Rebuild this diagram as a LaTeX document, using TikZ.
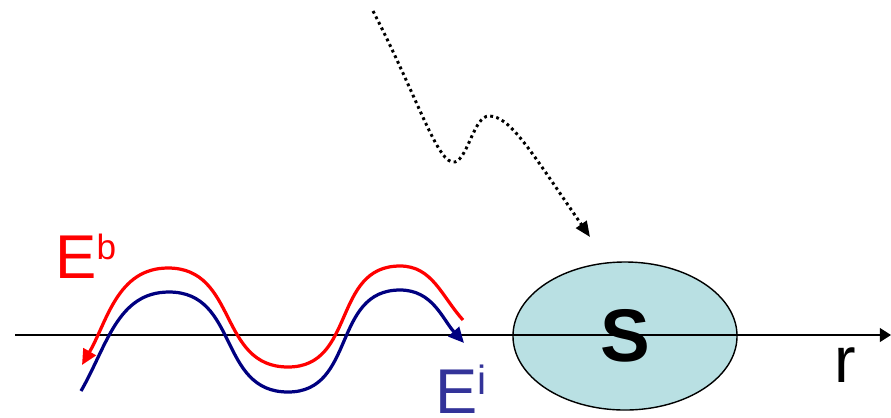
\documentclass[tikz,border=0pt]{standalone}
\usepackage{fontspec}
\setmainfont{Liberation Sans}
\usetikzlibrary{arrows.meta, shapes.geometric}

\definecolor{fieldred}{RGB}{255,0,0}
\definecolor{fieldnavy}{RGB}{0,0,128}
\definecolor{labelblue}{RGB}{51,51,153}
\definecolor{scatfill}{RGB}{185,224,227}

\begin{document}
\begin{tikzpicture}[
  x=0.025cm, y=0.025cm,
  wave/.style={line width=2.3pt},
  axis/.style={line width=0.9pt, -{Triangle[length=8pt, width=10pt]}},
  scatterer/.style={ellipse, draw, line width=1pt, fill=scatfill,
                    minimum width=5.6cm, minimum height=3.7cm, inner sep=0pt},
  lbl/.style={inner sep=0pt, anchor=base west},
  photon/.style={line width=2.1pt, dash pattern=on 2pt off 2.4pt,
                 -{Triangle[length=11pt, width=9pt]}}
]
\useasboundingbox (0,0) rectangle (891,-417);

% --- Scatterer ---
\node[scatterer] (scat) at (625,-336) {};

% --- Axis ---
\coordinate (ax0) at (15,-335);
\coordinate (ax1) at (891,-335);
\draw[axis] (ax0) -- (ax1);
\node[font=\fontsize{53}{53}\selectfont\bfseries] (slbl) at (scat.center) {S};
\node[lbl, font=\fontsize{46}{46}\selectfont] (rlbl) at (834,-382) {r};

% --- Incident wave (navy) ---
\coordinate (i0) at (81,-391);
\coordinate (i1) at (169,-292);
\coordinate (i2) at (288,-392);
\coordinate (i3) at (400,-290);
\coordinate (i4) at (464,-343);
\draw[wave, fieldnavy, -{Triangle[length=11pt, width=10pt]}]
  (i0) to[out=60,in=180] (i1) to[out=0,in=180,looseness=1.15] (i2)
       to[out=0,in=180,looseness=1.15] (i3) to[out=0,in=132] (i4);

% --- Backscattered wave (red) ---
\coordinate (b0) at (82,-365);
\coordinate (b1) at (168,-268);
\coordinate (b2) at (288,-367);
\coordinate (b3) at (400,-266);
\coordinate (b4) at (463,-320);
\draw[wave, fieldred, {Triangle[length=11pt, width=10pt]}-]
  (b0) to[out=60,in=180] (b1) to[out=0,in=180,looseness=1.15] (b2)
       to[out=0,in=180,looseness=1.15] (b3) to[out=0,in=132] (b4);

% --- Labels ---
\node[lbl, text=fieldred, font=\fontsize{44}{44}\selectfont] (eb) at (55,-278)
  {E\raisebox{13pt}{\fontsize{25}{25}\selectfont b}};
\node[lbl, text=labelblue, font=\fontsize{45}{45}\selectfont] (ei) at (435,-413)
  {E\raisebox{13pt}{\fontsize{29}{29}\selectfont i}};

% --- Incoming photon ---
\coordinate (p0) at (373,-11);
\coordinate (p1) at (455,-162);
\coordinate (p2) at (489,-116);
\coordinate (p3) at (590,-237);
\draw[photon]
  (p0) .. controls (418,-98) and (438,-166) .. (p1)
       .. controls (468,-158) and (474,-116) .. (p2)
       .. controls (510,-116) and (530,-150) .. (p3);

\end{tikzpicture}
\end{document}
